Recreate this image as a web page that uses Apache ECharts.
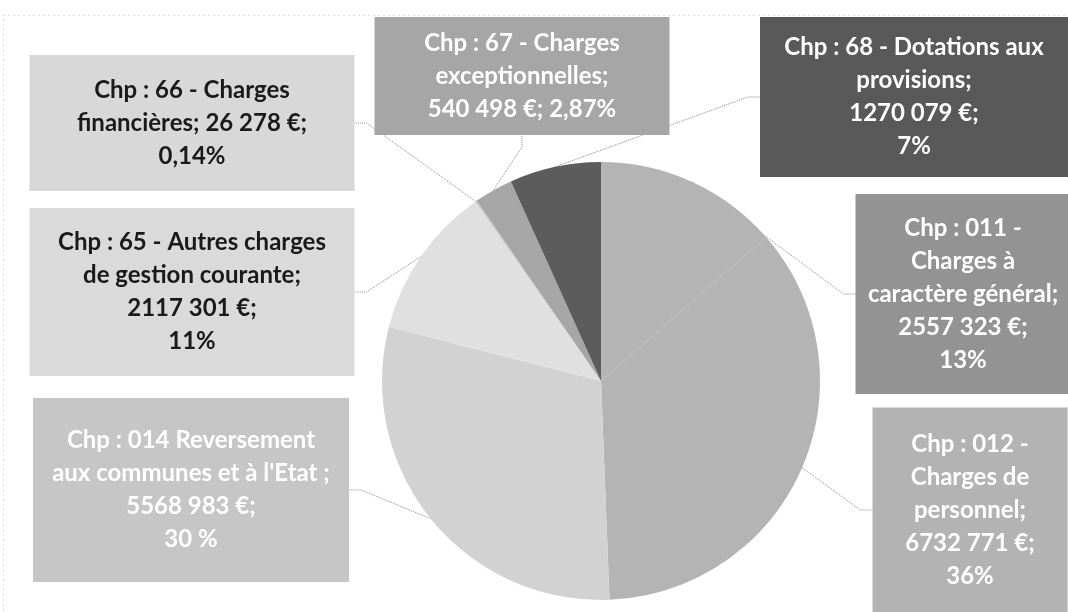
<!DOCTYPE html>
<html>
<head>
<meta charset="utf-8">
<script src="https://cdn.jsdelivr.net/npm/echarts@6/dist/echarts.min.js"></script>
<style>html,body{margin:0;padding:0;background:#fff}#c{width:1068px;height:612px}</style>
</head>
<body>
<div id="c"></div>
<script>
// ---- data ----
const categories = [
  'Chp : 011 -\nCharges à\ncaractère général',
  'Chp : 012 -\nCharges de\npersonnel',
  "Chp : 014 Reversement\naux communes et à l'Etat ",
  'Chp : 65 - Autres charges\nde gestion courante',
  'Chp : 66 - Charges\nfinancières',
  'Chp : 67 - Charges\nexceptionnelles',
  'Chp : 68 - Dotations aux\nprovisions'
];
const values = [2557323, 6732771, 5568983, 2117301, 26278, 540498, 1270079];
const percentLabels = ['13%', '36%', '30 %', '11%', '0,14%', '2,87%', '7%'];

// ---- styles / layout (not data) ----
const sliceColors = ['#b4b4b4', '#b4b4b4', '#d2d2d2', '#e0e0e0', '#d0d0d0', '#a6a6a6', '#5c5c5c'];
const boxStyles = [
  {cx: 963, cy: 294, w: 215, h: 200, bg: '#939393', color: '#ffffff', s1: ';\n', s2: ';\n'},
  {cx: 970, cy: 510, w: 195, h: 205, bg: '#b3b3b3', color: '#ffffff', s1: ';\n', s2: ';\n'},
  {cx: 191, cy: 490, w: 316, h: 184, bg: '#c6c6c6', color: '#ffffff', s1: ';\n', s2: ';\n'},
  {cx: 192, cy: 292, w: 325, h: 168, bg: '#dadada', color: '#1a1a1a', s1: ';\n', s2: ';\n'},
  {cx: 192, cy: 123, w: 325, h: 136, bg: '#d8d8d8', color: '#1a1a1a', s1: '; ', s2: ';\n'},
  {cx: 522, cy: 76, w: 295, h: 118, bg: '#a6a6a6', color: '#ffffff', s1: ';\n', s2: '; '},
  {cx: 914, cy: 97, w: 308, h: 160, bg: '#595959', color: '#ffffff', s1: ';\n', s2: ';\n'}
];
const LH = 33;

function fmt(v) {
  const hi = Math.floor(v / 1000);
  const lo = String(v % 1000).padStart(3, '0');
  return hi + ' ' + lo + ' €';
}

const seriesData = categories.map((name, i) => {
  const b = boxStyles[i];
  const text = name + b.s1 + fmt(values[i]) + b.s2 + percentLabels[i];
  const nLines = text.split('\n').length;
  const pv = Math.max(0, (b.h - nLines * LH) / 2);
  return {
    name: name,
    value: values[i],
    itemStyle: {color: sliceColors[i]},
    label: {
      formatter: text,
      backgroundColor: b.bg,
      color: b.color,
      width: b.w,
      padding: [pv, 0, pv, 0]
    }
  };
});

const chart = echarts.init(document.getElementById('c'));
chart.setOption({
  backgroundColor: '#ffffff',
  animation: false,
  graphic: [{
    type: 'rect', z: -10, silent: true,
    shape: {x: 3.5, y: 15.5, width: 1200, height: 800},
    style: {fill: 'none', stroke: '#bdbdbd', lineWidth: 1, lineDash: [1, 4]}
  }],
  series: [{
    type: 'pie',
    center: [601, 381],
    radius: 219,
    startAngle: 90,
    clockwise: true,
    avoidLabelOverlap: false,
    emphasis: {disabled: true},
    itemStyle: {borderWidth: 0},
    data: seriesData,
    label: {
      show: true,
      position: 'outside',
      fontFamily: 'Lato',
      fontWeight: 'bold',
      fontSize: 24,
      lineHeight: LH,
      align: 'center',
      overflow: 'none'
    },
    labelLine: {
      show: true,
      length: 12,
      length2: 12,
      lineStyle: {color: '#8a8a8a', width: 1, type: 'dotted'}
    },
    labelLayout: function (p) {
      const b = boxStyles[p.dataIndex];
      return {x: b.cx, y: b.cy, align: 'center', verticalAlign: 'middle'};
    }
  }]
});
</script>
</body>
</html>
